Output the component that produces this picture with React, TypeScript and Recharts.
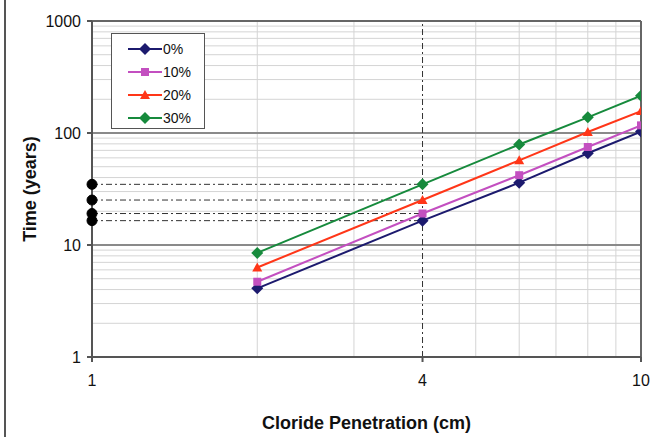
import React from 'react';
import {
  ComposedChart, Line, XAxis, YAxis, ReferenceLine, ReferenceDot,
} from 'recharts';

const penetration = [2, 4, 6, 8, 10];
const time0 = [4.1, 16.5, 36, 66, 103];
const time10 = [4.7, 19.1, 42, 75, 117];
const time20 = [6.3, 25.2, 57, 102, 157];
const time30 = [8.5, 34.8, 79, 138, 215];
const seriesNames = ['0%', '10%', '20%', '30%'];
const xTicks = [1, 4, 10];
const yTicks = [1, 10, 100, 1000];
const readLevels = [34.8, 25.2, 19.1, 16.5];
const xMinor = [2, 3, 5, 6, 7, 8, 9];
const yMinor = [2, 3, 4, 5, 6, 7, 8, 9, 20, 30, 40, 50, 60, 70, 80, 90, 200, 300, 400, 500, 600, 700, 800, 900];

const data = penetration.map((x, i) => ({
  x, s0: time0[i], s10: time10[i], s20: time20[i], s30: time30[i],
}));

const colors = ['#1c1a6e', '#c34fc0', '#ff3618', '#168a3c'];
const shapes = ['diamond', 'square', 'triangle', 'diamond'];
const FONT = '"Liberation Sans", Arial, sans-serif';

const Marker = ({ cx, cy, shape, color }: any) => {
  if (cx == null || cy == null) return null;
  if (shape === 'square') return <rect x={cx - 4} y={cy - 4} width={8} height={8} fill={color} />;
  if (shape === 'triangle') return <polygon points={`${cx},${cy - 5} ${cx + 5},${cy + 4} ${cx - 5},${cy + 4}`} fill={color} />;
  return <polygon points={`${cx},${cy - 6} ${cx + 6},${cy} ${cx},${cy + 6} ${cx - 6},${cy}`} fill={color} />;
};

const LegendBox = () => (
  <div style={{ position: 'absolute', left: 111, top: 33, border: '1px solid #555', background: '#fff', width: 94, height: 96, boxSizing: 'border-box', padding: '3px 0 0 0' }}>
    {seriesNames.map((n, i) => (
      <div key={n} style={{ display: 'flex', alignItems: 'center', height: 23 }}>
        <svg width={51} height={14}>
          <line x1={16} x2={50} y1={7} y2={7} stroke={colors[i]} strokeWidth={2} />
          <Marker cx={33} cy={7} shape={shapes[i]} color={colors[i]} />
        </svg>
        <span style={{ fontFamily: FONT, fontSize: 14, color: '#111' }}>{n}</span>
      </div>
    ))}
  </div>
);

export default function App() {
  const keys = ['s0', 's10', 's20', 's30'];
  return (
    <div style={{ position: 'absolute', left: 0, top: 0, width: 660, height: 437, background: '#fff' }}>
      <div style={{ position: 'absolute', left: 4, top: 0, width: 2, height: 437, background: '#555' }} />
      <ComposedChart width={660} height={437} data={data} margin={{ top: 21, right: 19, bottom: 0, left: 0 }}>
        <XAxis
          dataKey="x" type="number" scale="log" domain={[1, 10]} ticks={xTicks}
          allowDataOverflow height={80} stroke="#555" strokeWidth={2}
          tick={{ fontFamily: FONT, fontSize: 16, fill: '#111', dy: 11 }} tickSize={5}
          label={{ value: 'Cloride Penetration (cm)', position: 'insideBottom', offset: 8, style: { fontFamily: FONT, fontSize: 18, fontWeight: 'bold', fill: '#111' } }}
        />
        <YAxis
          type="number" scale="log" domain={[1, 1000]} ticks={yTicks} allowDataOverflow
          width={92} stroke="#555" strokeWidth={2}
          tick={{ fontFamily: FONT, fontSize: 16, fill: '#111', dx: -4 }} tickSize={5}
          label={{ value: 'Time (years)', angle: -90, position: 'insideLeft', offset: 30, style: { fontFamily: FONT, fontSize: 18, fontWeight: 'bold', fill: '#111', textAnchor: 'middle' } }}
        />
        {yMinor.map((v) => <ReferenceLine key={'ym' + v} y={v} stroke="#d4d4d4" strokeWidth={1} />)}
        {xMinor.map((v) => <ReferenceLine key={'xm' + v} x={v} stroke="#d4d4d4" strokeWidth={1} />)}
        <ReferenceLine y={10} stroke="#8a8a8a" strokeWidth={2} />
        <ReferenceLine y={100} stroke="#8a8a8a" strokeWidth={2} />
        <ReferenceLine y={1000} stroke="#666" strokeWidth={2} />
        <ReferenceLine x={10} stroke="#666" strokeWidth={2} />
        <ReferenceLine x={4} stroke="#333" strokeWidth={1} strokeDasharray="6 3 2 3" />
        {readLevels.map((v) => (
          <ReferenceLine key={'rl' + v} segment={[{ x: 1, y: v }, { x: 4, y: v }]} stroke="#333" strokeWidth={1} strokeDasharray="6 3 2 3" />
        ))}
        {readLevels.map((v) => (
          <ReferenceDot key={'rd' + v} x={1} y={v} r={5} fill="#000" stroke="#000" ifOverflow="visible" />
        ))}
        {keys.map((k, i) => (
          <Line
            key={k} dataKey={k} name={seriesNames[i]} stroke={colors[i]} strokeWidth={2}
            isAnimationActive={false}
            dot={(p: any) => <Marker key={k + p.index} cx={p.cx} cy={p.cy} shape={shapes[i]} color={colors[i]} />}
          />
        ))}
      </ComposedChart>
      <LegendBox />
    </div>
  );
}
